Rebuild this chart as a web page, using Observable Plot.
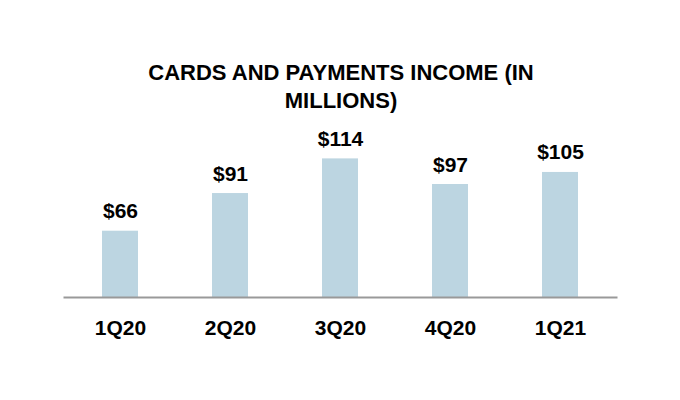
<!DOCTYPE html>
<html>
<head>
<meta charset="utf-8">
<script src="https://cdn.jsdelivr.net/npm/d3@7"></script>
<script src="https://cdn.jsdelivr.net/npm/@observablehq/plot@0.6"></script>
<style>
  html, body { margin: 0; padding: 0; background: #fff; }
  body { width: 680px; height: 400px; overflow: hidden; font-family: "Liberation Sans", Arial, sans-serif; }
  #title { margin: 59px 0 0 0; padding-left: 2px; width: 678px; text-align: center; font-size: 22px; font-weight: bold; line-height: 28px; color: #000; }
  #chart svg { display: block; }
</style>
</head>
<body>
<div id="title">CARDS AND PAYMENTS INCOME (IN<br>MILLIONS)</div>
<div id="chart"></div>
<script>
const quarters = ["1Q20", "2Q20", "3Q20", "4Q20", "1Q21"];
const income = [66, 91, 114, 97, 105];
const valueLabels = ["$66", "$91", "$114", "$97", "$105"];

const data = quarters.map((q, i) => ({q, v: income[i], label: valueLabels[i]}));

const chart = Plot.plot({
  width: 680,
  height: 285,
  marginLeft: 64,
  marginRight: 64,
  marginTop: 0,
  marginBottom: 103,
  style: {fontFamily: "'Liberation Sans', Arial, sans-serif", background: "#fff"},
  x: {domain: quarters, paddingInner: 0.673, paddingOuter: 0.3365, label: null},
  y: {domain: [22, 142.8], clamp: true, axis: null},
  marks: [
    Plot.barY(data, {x: "q", y: "v", fill: "#bcd5e1"}),
    Plot.frame({anchor: "bottom", stroke: "#999", strokeWidth: 2}),
    Plot.text(data, {x: "q", y: "v", text: "label", dy: -13, lineAnchor: "bottom", fontSize: 21, fontWeight: "bold", fill: "#000"}),
    Plot.axisX({tickSize: 0, tickPadding: 23, fontSize: 21, fontWeight: "bold", color: "#000", label: null})
  ]
});
document.getElementById("chart").appendChild(chart);
</script>
</body>
</html>
